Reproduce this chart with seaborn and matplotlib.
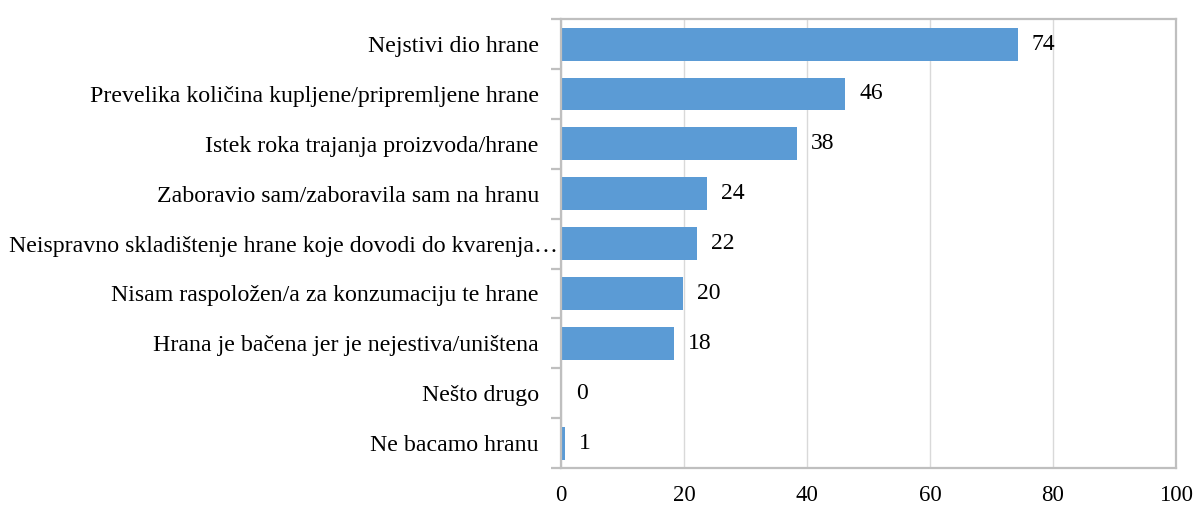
import matplotlib
matplotlib.use("Agg")
import matplotlib.pyplot as plt
import matplotlib.transforms as mtransforms
import numpy as np
import pandas as pd
import seaborn as sns

# data
categories = [
    "Nejstivi dio hrane",
    "Prevelika količina kupljene/pripremljene hrane",
    "Istek roka trajanja proizvoda/hrane",
    "Zaboravio sam/zaboravila sam na hranu",
    "Neispravno skladištenje hrane koje dovodi do kvarenja…",
    "Nisam raspoložen/a za konzumaciju te hrane",
    "Hrana je bačena jer je nejestiva/uništena",
    "Nešto drugo",
    "Ne bacamo hranu",
]
values = [74.3, 46.2, 38.4, 23.8, 22.1, 19.8, 18.4, 0.2, 0.6]
value_labels = ["74", "46", "38", "24", "22", "20", "18", "0", "1"]
x_ticks = [0, 20, 40, 60, 80, 100]

sns.set_style("white")
plt.rcParams["font.family"] = ["Liberation Serif", "DejaVu Serif"]
plt.rcParams["text.color"] = "black"
plt.rcParams["xtick.color"] = "black"
plt.rcParams["ytick.color"] = "black"

df = pd.DataFrame({"cat": categories, "val": values})

fig = plt.figure(figsize=(11.97, 5.05), dpi=100)
ax = fig.add_axes([0.4687, 0.0733, 0.9825 - 0.4687, 0.962 - 0.0733])

sns.barplot(data=df, y="cat", x="val", color="#5B9BD5", width=0.66,
            saturation=1, edgecolor="none", ax=ax, zorder=3)

ax.bar_label(ax.containers[0], labels=value_labels, padding=10,
             fontsize=17, color="black")

ax.set_xlim(0, 100)
ax.set_ylim(len(categories) - 0.5, -0.5)
ax.set_xticks(x_ticks)
ax.xaxis.grid(True, color="#D9D9D9", linewidth=1, zorder=0)
ax.set_xlabel("")
ax.set_ylabel("")

for sp in ax.spines.values():
    sp.set_color("#BFBFBF")
    sp.set_linewidth(1.6)
    sp.set_zorder(4)

ax.set_yticks(np.arange(-0.5, len(categories), 1), minor=True)
ax.tick_params(axis="y", which="major", left=False, length=0, pad=16,
               labelsize=17.2, labelcolor="black")
ax.tick_params(axis="y", which="minor", left=True, length=7, width=1.6,
               color="#BFBFBF", direction="out")
ax.tick_params(axis="x", which="both", bottom=False, length=0, pad=12,
               labelsize=16.5, labelcolor="black")

# the long label runs over into the plot area, as in the original
long_lbl = ax.get_yticklabels()[4]
long_lbl.set_transform(long_lbl.get_transform() +
                       mtransforms.ScaledTranslation(0.19, 0, fig.dpi_scale_trans))

fig.savefig("out.png", dpi=100)
